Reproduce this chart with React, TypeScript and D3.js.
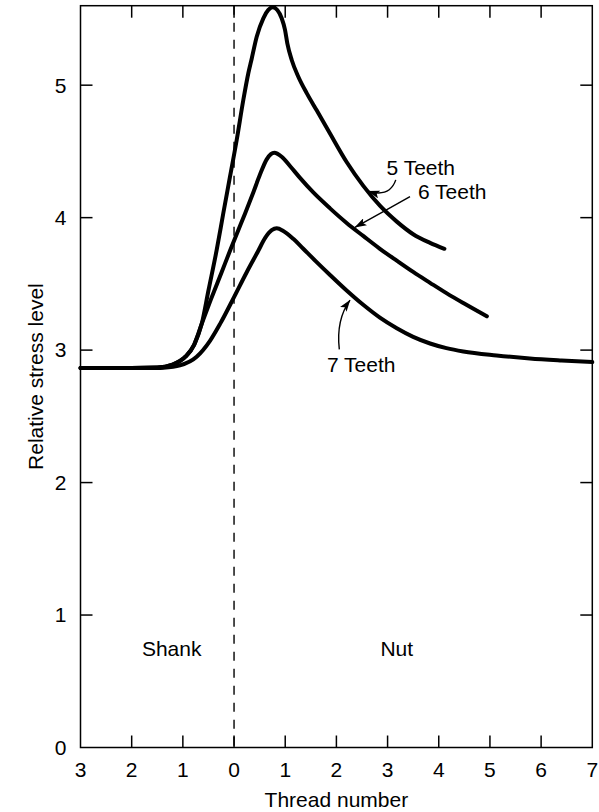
import React from "react";
import * as d3 from "d3";

const W = 599;
const H = 812;
const plot = { left: 80.5, right: 592.3, top: 5.7, bottom: 747.5 };

// Axis ticks
const xTickValues = [-3, -2, -1, 0, 1, 2, 3, 4, 5, 6, 7];
const xTickLabels = ["3", "2", "1", "0", "1", "2", "3", "4", "5", "6", "7"];
const yTickValues = [0, 1, 2, 3, 4, 5];

// Stress along the thread for each nut size
const thread5 = [-3, -2, -1.5, -1.2, -0.95, -0.78, -0.63, -0.5, -0.339, -0.21, -0.079, 0.052, 0.181, 0.279, 0.345, 0.443, 0.572, 0.67, 0.755, 0.845, 0.931, 0.996, 1.041, 1.127, 1.256, 1.42, 1.615, 1.875, 2.2, 2.526, 2.85, 3.18, 3.5, 3.83, 4.11];
const stress5 = [2.865, 2.865, 2.868, 2.89, 2.95, 3.04, 3.2, 3.45, 3.756, 4.033, 4.309, 4.586, 4.888, 5.09, 5.2, 5.366, 5.505, 5.568, 5.588, 5.568, 5.505, 5.417, 5.316, 5.19, 5.064, 4.94, 4.81, 4.635, 4.42, 4.24, 4.09, 3.97, 3.875, 3.81, 3.765];

const thread6 = [-3, -2, -1.5, -1.2, -0.95, -0.78, -0.63, -0.45, -0.25, -0.079, 0.083, 0.214, 0.376, 0.507, 0.638, 0.72, 0.787, 0.931, 1.093, 1.289, 1.549, 1.876, 2.2, 2.53, 2.85, 3.18, 3.5, 3.83, 4.15, 4.48, 4.94];
const stress6 = [2.865, 2.865, 2.868, 2.89, 2.95, 3.04, 3.2, 3.385, 3.58, 3.75, 3.905, 4.03, 4.19, 4.325, 4.44, 4.48, 4.49, 4.46, 4.39, 4.3, 4.19, 4.07, 3.96, 3.86, 3.765, 3.675, 3.59, 3.508, 3.43, 3.355, 3.255];

const thread7 = [-3, -2, -1.5, -1.38, -1.056, -0.73, -0.47, -0.27, 0.0, 0.25, 0.474, 0.605, 0.736, 0.834, 0.962, 1.158, 1.353, 1.6, 1.876, 2.2, 2.53, 2.85, 3.18, 3.5, 3.83, 4.15, 4.48, 5.13, 5.78, 6.4, 7];
const stress7 = [2.865, 2.865, 2.865, 2.867, 2.885, 2.95, 3.07, 3.2, 3.4, 3.59, 3.75, 3.845, 3.905, 3.92, 3.9, 3.84, 3.765, 3.67, 3.567, 3.45, 3.34, 3.245, 3.165, 3.1, 3.05, 3.015, 2.99, 2.96, 2.937, 2.922, 2.91];

// Curve labels: text position, arrow tail, bend and head (thread, stress)
const labelTexts = ["5 Teeth", "6 Teeth", "7 Teeth"];
const labelX = [2.98, 3.594, 1.816];
const labelY = [4.32, 4.141, 2.837];
const arrowTailX = [3.16, 3.438, 2.057];
const arrowTailY = [4.285, 4.158, 3.006];
const arrowBendX = [3.04, 2.9, 1.99];
const arrowBendY = [4.15, 4.04, 3.23];
const arrowHeadX = [2.62, 2.363, 2.266];
const arrowHeadY = [4.2, 3.927, 3.378];

// Region labels
const regionTexts = ["Shank", "Nut"];
const regionX = [-1.8, 2.86];
const regionY = [0.694, 0.694];

const FONT = "'Liberation Sans', Arial, Helvetica, sans-serif";

export default function App() {
  const x = d3.scaleLinear().domain([-3, 7]).range([plot.left, plot.right]);
  const y = d3.scaleLinear().domain([0, 5.6]).range([plot.bottom, plot.top]);

  const line = d3
    .line<[number, number]>()
    .x((d) => x(d[0]))
    .y((d) => y(d[1]))
    .curve(d3.curveMonotoneX);

  const series = [
    d3.zip(thread5, stress5) as [number, number][],
    d3.zip(thread6, stress6) as [number, number][],
    d3.zip(thread7, stress7) as [number, number][],
  ];

  const tickLen = 12;

  return (
    <svg
      width={W}
      height={H}
      viewBox={`0 0 ${W} ${H}`}
      style={{ position: "absolute", left: 0, top: 0, background: "#fff" }}
      fontFamily={FONT}
    >
      <defs>
        <marker
          id="head"
          viewBox="0 0 12 8"
          refX="11.5"
          refY="4"
          markerWidth="12"
          markerHeight="8"
          markerUnits="userSpaceOnUse"
          orient="auto"
        >
          <path d="M0,0 L12,4 L0,8 L2.5,4 Z" fill="#000" />
        </marker>
      </defs>

      {/* Boundary between shank and nut */}
      <line
        x1={x(0)}
        x2={x(0)}
        y1={plot.top}
        y2={plot.bottom}
        stroke="#000"
        strokeWidth={1.4}
        strokeDasharray="9,8"
      />

      {/* Frame */}
      <rect
        x={plot.left}
        y={plot.top}
        width={plot.right - plot.left}
        height={plot.bottom - plot.top}
        fill="none"
        stroke="#000"
        strokeWidth={1.5}
      />

      {/* Inward ticks on all four sides */}
      {xTickValues.slice(1, -1).map((v) => (
        <g key={`xt${v}`}>
          <line x1={x(v)} x2={x(v)} y1={plot.bottom} y2={plot.bottom - tickLen} stroke="#000" strokeWidth={1.5} />
          <line x1={x(v)} x2={x(v)} y1={plot.top} y2={plot.top + tickLen} stroke="#000" strokeWidth={1.5} />
        </g>
      ))}
      {yTickValues.slice(1).map((v) => (
        <g key={`yt${v}`}>
          <line x1={plot.left} x2={plot.left + tickLen} y1={y(v)} y2={y(v)} stroke="#000" strokeWidth={1.5} />
          <line x1={plot.right} x2={plot.right - tickLen} y1={y(v)} y2={y(v)} stroke="#000" strokeWidth={1.5} />
        </g>
      ))}

      {/* Tick labels */}
      {xTickValues.map((v, i) => (
        <text key={`xl${v}`} x={x(v)} y={777} textAnchor="middle" fontSize={21}>
          {xTickLabels[i]}
        </text>
      ))}
      {yTickValues.map((v) => (
        <text key={`yl${v}`} x={60.5} y={y(v)} dy="0.35em" textAnchor="middle" fontSize={21}>
          {v}
        </text>
      ))}

      {/* Axis titles */}
      <text x={(plot.left + plot.right) / 2} y={806.5} textAnchor="middle" fontSize={21}>
        Thread number
      </text>
      <text
        transform={`translate(43, ${(plot.top + plot.bottom) / 2}) rotate(-90)`}
        textAnchor="middle"
        fontSize={21}
      >
        Relative stress level
      </text>

      {/* Stress curves */}
      {series.map((s, i) => (
        <path key={`s${i}`} d={line(s) ?? ""} fill="none" stroke="#000" strokeWidth={4} strokeLinejoin="round" strokeLinecap="round" />
      ))}

      {/* Curve labels with arrows */}
      {labelTexts.map((t, i) => (
        <g key={`lab${i}`}>
          <path
            d={`M${x(arrowTailX[i])},${y(arrowTailY[i])} Q${x(arrowBendX[i])},${y(arrowBendY[i])} ${x(arrowHeadX[i])},${y(arrowHeadY[i])}`}
            fill="none"
            stroke="#000"
            strokeWidth={1.4}
            markerEnd="url(#head)"
          />
          <text x={x(labelX[i])} y={y(labelY[i])} fontSize={21}>
            {t}
          </text>
        </g>
      ))}

      {/* Region labels */}
      {regionTexts.map((t, i) => (
        <text key={`r${i}`} x={x(regionX[i])} y={y(regionY[i])} fontSize={21}>
          {t}
        </text>
      ))}
    </svg>
  );
}
